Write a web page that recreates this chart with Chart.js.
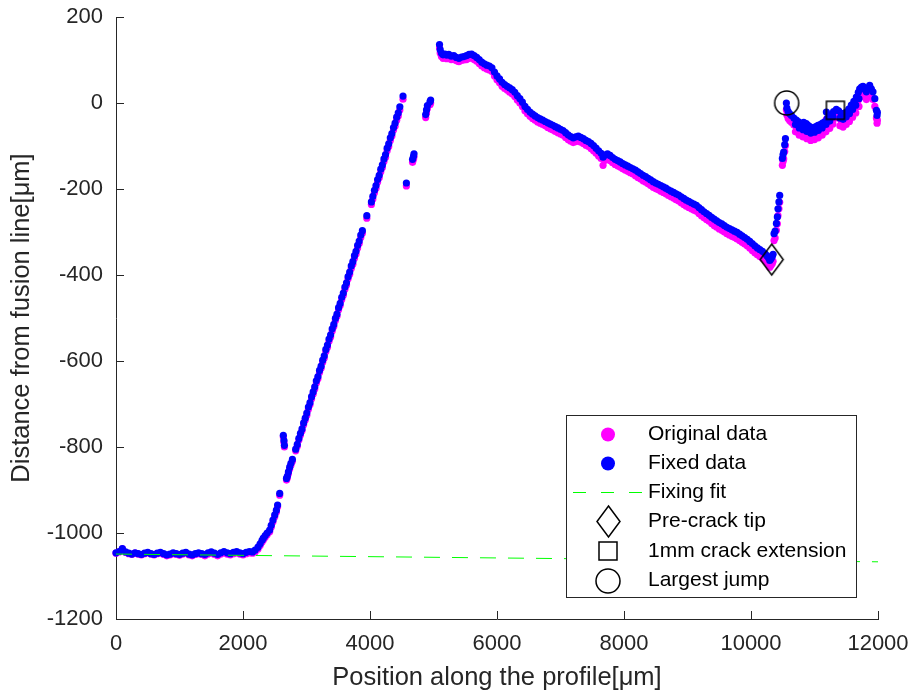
<!DOCTYPE html>
<html>
<head>
<meta charset="utf-8">
<script src="https://cdn.jsdelivr.net/npm/chart.js@4.4.0/dist/chart.umd.min.js"></script>
<style>
html,body{margin:0;padding:0;background:#ffffff;}
canvas{display:block;}
</style>
</head>
<body>
<canvas id="c" width="915" height="700"></canvas>
<script>
// ---------------- data ----------------
const xTicks = [0, 2000, 4000, 6000, 8000, 10000, 12000];
const yTicks = [-1200, -1000, -800, -600, -400, -200, 0, 200];

// flat part before the fusion line crossing
const flatPos = [0,50,100,150,200,250,300,350,400,450,500,550,600,650,700,750,800,850,900,950,1000,1050,1100,1150,1200,1250,1300,1350,1400,1450,1500,1550,1600,1650,1700,1750,1800,1850,1900,1950,2000,2050,2100,2150];
const flatFixed = [-1046,-1043,-1036,-1044,-1047,-1049,-1046,-1048,-1050,-1047,-1045,-1048,-1050,-1047,-1045,-1048,-1051,-1049,-1046,-1048,-1050,-1047,-1045,-1049,-1051,-1048,-1046,-1048,-1050,-1046,-1044,-1047,-1050,-1046,-1043,-1046,-1048,-1045,-1043,-1046,-1048,-1045,-1043,-1044];
const flatOriginal = [-1047,-1044,-1037,-1045,-1048,-1050,-1047,-1049,-1051,-1048,-1046,-1049,-1051,-1048,-1047,-1050,-1053,-1051,-1048,-1050,-1052,-1049,-1047,-1051,-1053,-1050,-1048,-1050,-1053,-1049,-1047,-1050,-1053,-1049,-1046,-1049,-1051,-1048,-1046,-1049,-1051,-1048,-1046,-1047];

// start of the steep rise
const riseLowPos = [2190,2236,2270,2300,2320,2350,2380,2420,2445,2472,2500,2526,2545,2578];
const riseLowFixed = [-1040,-1033,-1025,-1017,-1012,-1006,-1000,-993,-982,-970,-958,-947,-935,-908];
const riseLowOriginal = [-1044,-1037,-1029,-1021,-1016,-1010,-1004,-997,-986,-974,-962,-951,-939,-912];

const outlierPos = [2635,2645,2652];
const outlierFixed = [-773,-785,-796];
const outlierOriginal = [-777,-789,-800];

const riseMidPos = [2685,2698,2715,2735,2755,2778,2830,2855,2880,2905,2930,2955,2980,3005,3030,3055,3080,3105,3130,3155,3180,3205,3230,3255,3280,3305,3330,3355,3380,3405,3430,3455,3480,3505,3530,3555,3580,3605,3630,3655,3680,3705,3730,3755,3780,3805,3830,3855,3880];
const riseMidFixed = [-873,-868,-858,-847,-838,-829,-805,-794,-780,-768,-758,-744,-733,-721,-707,-697,-683,-672,-660,-646,-636,-622,-612,-598,-588,-573,-563,-549,-539,-525,-515,-501,-491,-476,-466,-452,-442,-428,-418,-404,-393,-379,-369,-355,-345,-331,-321,-307,-297];
const riseMidOriginal = [-877,-872,-862,-851,-842,-833,-809,-798,-784,-772,-762,-748,-737,-726,-712,-702,-688,-677,-665,-651,-641,-627,-617,-603,-593,-578,-568,-554,-544,-530,-520,-506,-496,-481,-471,-457,-447,-433,-423,-409,-398,-385,-375,-361,-351,-337,-327,-313,-303];

const riseTopPos = [3950,4022,4045,4070,4095,4120,4145,4170,4195,4220,4245,4270,4295,4320,4345,4370,4395,4420,4445,4470,4520];
const riseTopFixed = [-262,-230,-217,-203,-192,-178,-168,-154,-144,-130,-120,-105,-95,-81,-71,-57,-47,-33,-23,-9,16];
const riseTopOriginal = [-268,-236,-223,-209,-198,-184,-174,-160,-150,-136,-126,-111,-101,-87,-77,-63,-54,-40,-30,-16,9];

const sidePos = [4573,4670,4685,4693,4877,4890,4904,4945,4955];
const sideFixed = [-186,-131,-124,-118,-27,-16,-6,3,7];
const sideOriginal = [-193,-138,-131,-125,-34,-23,-13,-4,0];

// long decline up to the pre-crack tip
const declinePos = [5095,5105,5125,5150,5180,5210,5240,5280,5320,5360,5400,5440,5480,
5520,5560,5600,5640,5680,5720,5760,5800,5840,5880,5920,5960,6000,6040,6080,6120,6160,
6200,6240,6280,6320,6360,6400,6440,6480,6520,6560,6600,6640,6680,6720,6760,
6800,6840,6880,6920,6960,7000,7040,7080,7120,7160,7200,7240,7280,7320,7360,7400,7440,
7480,7520,7560,7600,7640,7670,7700,7740,7780,7820,7860,7900,7940,7980,8020,8060,8100,8140,
8180,8220,8260,8300,8340,8380,8420,8460,8500,8540,8580,8620,8660,8700,8740,8780,
8820,8860,8900,8940,8980,9020,9060,9100,9140,9180,9220,9260,9300,9340,9380,
9420,9460,9500,9540,9580,9620,9660,9700,9740,9780,9820,9860,9900,9940,9980,
10020,10060,10100,10140,10180,10220,10250,10275,10295,10315,10335,10348];
const declineFixed = [136,124,116,112,114,111,113,109,110,106,104,107,108,
110,113,114,110,106,101,95,91,88,86,82,72,63,56,48,43,39,
35,31,25,17,10,2,-8,-15,-21,-26,-30,-34,-37,-40,-43,
-46,-49,-52,-55,-58,-61,-64,-69,-74,-78,-81,-79,-77,-80,-83,-87,-90,
-94,-99,-105,-111,-117,-126,-121,-118,-122,-127,-131,-134,-137,-141,-144,-147,-150,-153,
-156,-160,-164,-168,-171,-175,-179,-183,-186,-189,-192,-195,-198,-202,-205,-208,
-211,-214,-218,-222,-226,-229,-232,-235,-238,-243,-248,-253,-257,-261,-266,
-270,-274,-278,-281,-285,-289,-292,-295,-298,-301,-305,-309,-313,-317,-322,
-327,-332,-337,-341,-345,-350,-355,-360,-366,-362,-357,-352];
const declineOriginal = [128,116,108,104,106,103,105,101,102,98,96,99,100,
101,104,105,101,97,92,86,82,79,77,73,63,54,47,39,34,30,
25,21,15,7,0,-8,-18,-25,-31,-36,-40,-44,-47,-50,-53,
-57,-60,-63,-66,-69,-72,-75,-80,-85,-89,-92,-90,-88,-91,-94,-98,-101,
-106,-111,-117,-123,-129,-145,-133,-130,-134,-139,-143,-146,-149,-153,-156,-159,-162,-165,
-169,-173,-177,-181,-184,-188,-192,-196,-199,-202,-205,-208,-211,-215,-218,-221,
-225,-228,-232,-236,-240,-243,-246,-249,-252,-257,-262,-267,-271,-275,-280,
-285,-289,-293,-296,-300,-304,-307,-310,-313,-316,-320,-324,-328,-332,-337,
-343,-348,-353,-357,-361,-366,-371,-376,-382,-378,-373,-368];

// jump after the pre-crack tip
const jumpPos = [10363,10380,10400,10415,10425,10440,10452,10494,10505,10515,10531,10542];
const jumpFixed = [-304,-298,-280,-265,-246,-230,-215,-129,-120,-114,-97,-83];
const jumpOriginal = [-320,-314,-296,-281,-262,-246,-231,-145,-136,-130,-113,-99];

// last part of the profile
const rightPos = [10557,10565,10585,10610,10636,10675,10714,10750,10793,10830,10870,10898,10925,10951,10980,11020,11055,11090,11125,11160,11187,11200,11239,11270,11300,11344,11380];
const rightFixed = [0,-12,-20,-25,-29,-35,-40,-44,-48,-45,-48,-52,-55,-60,-57,-55,-52,-50,-47,-44,-21,-36,-33,-27,-20,-15,-18];
const rightOriginal = [-16,-28,-36,-41,-45,-51,-57,-61,-65,-62,-65,-69,-72,-77,-74,-72,-69,-67,-64,-61,-38,-53,-50,-44,-37,-32,-35];

const rightLowPos = [10700,10760,10820,10880,10940,11000,11060,11120,11180,11240,11290];
const rightLowFixed = [-50,-58,-62,-66,-70,-68,-64,-58,-50,-42,-32];
const rightLowOriginal = [-67,-75,-79,-83,-87,-85,-81,-75,-67,-59,-49];

const endPos = [11400,11423,11450,11460,11500,11501,11540,11550,11580,11600,11620,11650,11659,11690,11700,11712,11740,11764,11790,11817,11845,11869,11895,11921,11950,11975,11985,11990];
const endFixed = [-35,-25,-38,-24,-32,-21,-14,-25,-5,-15,4,-5,14,25,10,33,37,39,32,26,35,41,33,26,10,-17,-29,-22];
const endOriginal = [-53,-43,-56,-42,-50,-39,-32,-43,-23,-33,-14,-23,-4,7,-8,15,19,21,14,8,17,23,15,8,-8,-35,-47,-40];

// fixing fit (straight line) and the three marked points
const fitPos = [0, 12000];
const fitValues = [-1049, -1067];
const markerLabels = ['Pre-crack tip', '1mm crack extension', 'Largest jump'];
const markerPos = [10326, 11329, 10562];
const markerValues = [-364, -17, 0];
const seriesLabels = ['Original data', 'Fixed data', 'Fixing fit'];

// ---------------- assemble ----------------
const posGroups = [flatPos, riseLowPos, outlierPos, riseMidPos, riseTopPos, sidePos, declinePos, jumpPos, rightPos, rightLowPos, endPos];
const fixedGroups = [flatFixed, riseLowFixed, outlierFixed, riseMidFixed, riseTopFixed, sideFixed, declineFixed, jumpFixed, rightFixed, rightLowFixed, endFixed];
const origGroups = [flatOriginal, riseLowOriginal, outlierOriginal, riseMidOriginal, riseTopOriginal, sideOriginal, declineOriginal, jumpOriginal, rightOriginal, rightLowOriginal, endOriginal];
posGroups.forEach((g, i) => {
  if (g.length !== fixedGroups[i].length || g.length !== origGroups[i].length) {
    throw new Error('length mismatch in group ' + i + ': ' + g.length + ' ' + fixedGroups[i].length + ' ' + origGroups[i].length);
  }
});
function pts(xs, ys) { return xs.map((x, i) => ({x: x, y: ys[i]})); }
const originalPoints = [].concat(...posGroups.map((g, i) => pts(g, origGroups[i])));
const fixedPoints = [].concat(...posGroups.map((g, i) => pts(g, fixedGroups[i])));

// ---------------- marker glyphs ----------------
function makeDiamond(w, h) {
  const c = document.createElement('canvas'); c.width = w + 4; c.height = h + 4;
  const g = c.getContext('2d'); g.strokeStyle = '#000'; g.lineWidth = 1.5;
  g.beginPath(); g.moveTo(c.width / 2, 2); g.lineTo(c.width - 2, c.height / 2);
  g.lineTo(c.width / 2, c.height - 2); g.lineTo(2, c.height / 2); g.closePath(); g.stroke();
  return c;
}
function makeSquare(s) {
  const c = document.createElement('canvas'); c.width = s + 4; c.height = s + 4;
  const g = c.getContext('2d'); g.strokeStyle = '#000'; g.lineWidth = 1.5;
  g.strokeRect(2, 2, s, s);
  return c;
}
function makeCircle(d) {
  const c = document.createElement('canvas'); c.width = d + 4; c.height = d + 4;
  const g = c.getContext('2d'); g.strokeStyle = '#000'; g.lineWidth = 1.5;
  g.beginPath(); g.arc(c.width / 2, c.height / 2, d / 2, 0, Math.PI * 2); g.stroke();
  return c;
}
const markerImgs = [makeDiamond(23, 31), makeSquare(18), makeCircle(24)];

const FONT = '"Liberation Sans", Arial, Helvetica, sans-serif';
const AXIS = '#262626';

function noScalePadding(s) { s.paddingTop = 0; s.paddingBottom = 0; s.paddingLeft = 0; s.paddingRight = 0; }

// inward tick marks (MATLAB style)
const inwardTicks = {
  id: 'inwardTicks',
  afterDatasetsDraw(chart) {
    const {ctx, chartArea: a, scales: {x, y}} = chart;
    ctx.save();
    ctx.strokeStyle = AXIS; ctx.lineWidth = 1;
    ctx.beginPath();
    x.ticks.forEach(t => { const px = Math.round(x.getPixelForValue(t.value)) + 0.5; ctx.moveTo(px, a.bottom); ctx.lineTo(px, a.bottom - 8); });
    y.ticks.forEach(t => { const py = Math.round(y.getPixelForValue(t.value)) + 0.5; ctx.moveTo(a.left, py); ctx.lineTo(a.left + 8, py); });
    ctx.stroke();
    ctx.restore();
  }
};

// boxed legend inside the axes
const boxLegend = {
  id: 'boxLegend',
  afterDraw(chart) {
    const ctx = chart.ctx;
    const left = 566, top = 415, w = 290, h = 182;
    const rows = [434.5, 463.5, 492, 521.5, 551, 580.5];
    const mx = 608, tx = 648;
    ctx.save();
    ctx.fillStyle = '#ffffff'; ctx.fillRect(left, top, w, h);
    ctx.strokeStyle = AXIS; ctx.lineWidth = 1; ctx.strokeRect(left + 0.5, top + 0.5, w, h);
    chart.data.datasets.forEach((ds, i) => {
      const ry = rows[i];
      if (i < 2) {
        ctx.fillStyle = ds.backgroundColor; ctx.beginPath(); ctx.arc(mx, ry, 7, 0, Math.PI * 2); ctx.fill();
      } else if (i === 2) {
        ctx.strokeStyle = ds.borderColor; ctx.lineWidth = 1; ctx.setLineDash([13, 15]);
        ctx.beginPath(); ctx.moveTo(573, ry + 0.5); ctx.lineTo(644, ry + 0.5); ctx.stroke(); ctx.setLineDash([]);
      } else {
        const img = ds.pointStyle; ctx.drawImage(img, Math.round(mx - img.width / 2), Math.round(ry - img.height / 2));
      }
      ctx.fillStyle = '#000'; ctx.font = '21px ' + FONT; ctx.textBaseline = 'middle'; ctx.textAlign = 'left';
      ctx.fillText(ds.label, tx, ry);
    });
    ctx.restore();
  }
};

const chart = new Chart(document.getElementById('c'), {
  type: 'scatter',
  data: {
    datasets: [
      {label: seriesLabels[0], data: originalPoints, backgroundColor: '#ff00ff', borderWidth: 0, pointRadius: 3.6, clip: false, order: 10},
      {label: seriesLabels[1], data: fixedPoints, backgroundColor: '#0000ff', borderWidth: 0, pointRadius: 3.6, clip: false, order: 9},
      {label: seriesLabels[2], data: pts(fitPos, fitValues), showLine: true, borderColor: '#00ff00', backgroundColor: '#00ff00', borderWidth: 1, borderDash: [16, 12], pointRadius: 0, order: 8},
      {label: markerLabels[0], data: [{x: markerPos[0], y: markerValues[0]}], pointStyle: markerImgs[0], pointRadius: 12, clip: false, order: 3},
      {label: markerLabels[1], data: [{x: markerPos[1], y: markerValues[1]}], pointStyle: markerImgs[1], pointRadius: 12, clip: false, order: 2},
      {label: markerLabels[2], data: [{x: markerPos[2], y: markerValues[2]}], pointStyle: markerImgs[2], pointRadius: 12, clip: false, order: 1}
    ]
  },
  options: {
    responsive: false,
    animation: false,
    devicePixelRatio: 1,
    layout: {padding: {top: 17, right: 37, left: 0, bottom: 0}},
    plugins: {legend: {display: false}, tooltip: {enabled: false}},
    scales: {
      x: {
        type: 'linear', min: 0, max: 12000,
        afterBuildTicks: s => { s.ticks = xTicks.map(v => ({value: v})); },
        afterFit: s => { s.height = 81; noScalePadding(s); },
        grid: {display: false, drawTicks: false},
        border: {display: true, color: AXIS, width: 1},
        ticks: {color: AXIS, font: {family: FONT, size: 22}, padding: 12, maxRotation: 0, autoSkip: false, callback: v => String(v)},
        title: {display: true, text: 'Position along the profile[μm]', color: AXIS, font: {family: FONT, size: 25.5}, padding: {top: 0, bottom: 7}}
      },
      y: {
        type: 'linear', min: -1200, max: 200,
        afterBuildTicks: s => { s.ticks = yTicks.map(v => ({value: v})); },
        afterFit: s => { s.width = 116; noScalePadding(s); },
        grid: {display: false, drawTicks: false},
        border: {display: true, color: AXIS, width: 1},
        ticks: {color: AXIS, font: {family: FONT, size: 22}, padding: 13, autoSkip: false, callback: v => String(v)},
        title: {display: true, text: 'Distance from fusion line[μm]', color: AXIS, font: {family: FONT, size: 25.5}, padding: {top: 7, bottom: 0}}
      }
    }
  },
  plugins: [inwardTicks, boxLegend]
});
</script>
</body>
</html>
